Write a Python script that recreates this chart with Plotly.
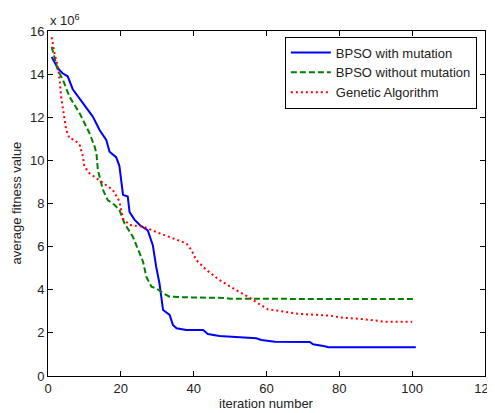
import plotly.graph_objects as go

# ── data (fitness in units of 1e6) ──
blue_x = [1, 2.7, 4, 5.4, 6.8, 9.6, 12.3, 14.2, 15.1, 16, 16.9, 18.7, 19.6, 20.1, 20.6,
          21.9, 22.4, 23.8, 25.2, 27.4, 27.9, 28.8, 29.7, 30.6, 31.1, 31.6, 33.4, 34.3,
          35.3, 38, 42.6, 43.9, 47.1, 50.8, 57.2, 58.6, 62.3, 71.9, 72.8, 76, 77, 101]
blue_y = [14.8, 14.27, 14.04, 13.9, 13.3, 12.65, 12.03, 11.4, 11.18, 10.95, 10.4, 10.15,
          9.75, 9.1, 8.4, 8.32, 7.6, 7.24, 7.0, 6.75, 6.5, 6.05, 5.07, 4.3, 3.68, 3.06,
          2.83, 2.37, 2.21, 2.13, 2.13, 1.95, 1.86, 1.82, 1.75, 1.67, 1.59, 1.58, 1.47,
          1.38, 1.33, 1.33]

green_x = [1, 1.8, 2.7, 4.1, 5.9, 8.7, 11.4, 12.8, 13.3, 13.7, 14.6, 15.1, 16.4, 18.3,
           19.6, 21, 23.3, 25.1, 26.1, 27, 28.4, 29.7, 31.6, 33.4, 38, 48.5, 50, 101]
green_y = [15.27, 14.8, 14.19, 13.73, 12.95, 12.18, 11.26, 10.64, 10.33, 9.55, 8.94, 8.63,
           8.16, 7.93, 7.7, 7.08, 6.46, 5.69, 5.3, 4.6, 4.14, 4.07, 3.84, 3.68, 3.65, 3.62,
           3.58, 3.57]

red_x = [1, 1.3, 1.8, 2.7, 3.2, 3.6, 4.5, 5, 5.9, 7.3, 8.7, 9.6, 10, 11.4, 13.3, 15.1,
         17.8, 19.6, 20.1, 20.6, 22.4, 26.1, 30.6, 34.3, 38, 39.4, 40.7, 43.5, 47.1, 50.8,
         54.5, 57.7, 60.4, 65, 69.1, 77.4, 81, 86.5, 91.1, 92.5, 100]
red_y = [15.71, 15.35, 14.97, 14.35, 13.73, 12.95, 12.03, 11.41, 11.02, 10.95, 10.71, 10.17,
         9.71, 9.4, 9.17, 8.94, 8.63, 8.1, 7.75, 7.3, 7.0, 6.93, 6.62, 6.39, 6.15, 5.84, 5.38,
         4.92, 4.45, 4.07, 3.72, 3.37, 3.09, 2.98, 2.88, 2.8, 2.7, 2.64, 2.56, 2.52, 2.52]

x_ticks = [0, 20, 40, 60, 80, 100, 120]
y_ticks = [0, 2, 4, 6, 8, 10, 12, 14, 16]

FONT = "Liberation Sans, Arial, sans-serif"
INK = "#222222"

fig = go.Figure()
fig.add_trace(go.Scatter(x=blue_x, y=blue_y, mode="lines", name="BPSO with mutation",
                         line=dict(color="#0000ff", width=2)))
fig.add_trace(go.Scatter(x=green_x, y=green_y, mode="lines", name="BPSO without mutation",
                         line=dict(color="#008000", width=2, dash="6px,3px")))
fig.add_trace(go.Scatter(x=red_x, y=red_y, mode="lines", name="Genetic Algorithm",
                         line=dict(color="#ff0000", width=2, dash="2px,3px")))

axis_common = dict(showline=True, linecolor="black", linewidth=1, mirror="allticks",
                   ticks="inside", ticklen=5, tickcolor="black", showgrid=False,
                   zeroline=False, automargin=False, ticklabeloverflow="allow",
                   tickfont=dict(family=FONT, size=13, color=INK))

# page body adds an 8px offset, so the figure is sized to fit what remains
fig.update_layout(
    width=487, height=405,
    margin=dict(l=40, r=10, t=23, b=37),
    paper_bgcolor="white", plot_bgcolor="white",
    font=dict(family=FONT, size=13, color=INK),
    xaxis=dict(range=[0, 120], tickvals=x_ticks, **axis_common),
    yaxis=dict(range=[0, 16], tickvals=y_ticks, **axis_common),
    legend=dict(x=0.542, y=0.984, xanchor="left", yanchor="top",
                bgcolor="white", bordercolor="black", borderwidth=1,
                font=dict(family=FONT, size=13, color=INK), tracegroupgap=0,
                itemwidth=40),
    showlegend=True,
)

# axis titles and exponent label
fig.add_annotation(xref="paper", yref="paper", x=0.5, y=0, yanchor="middle", yshift=-27,
                   showarrow=False, text="iteration number",
                   font=dict(family=FONT, size=13, color=INK))
fig.add_annotation(xref="paper", yref="paper", x=0, y=0.5, xanchor="center", xshift=-32,
                   textangle=-90, showarrow=False, text="average fitness value",
                   font=dict(family=FONT, size=13, color=INK))
fig.add_annotation(xref="paper", yref="paper", x=0, y=1, xanchor="left", yanchor="bottom",
                   yshift=1, showarrow=False, text="x 10<sup>6</sup>",
                   font=dict(family=FONT, size=13, color=INK))

fig.write_html("out.html")
